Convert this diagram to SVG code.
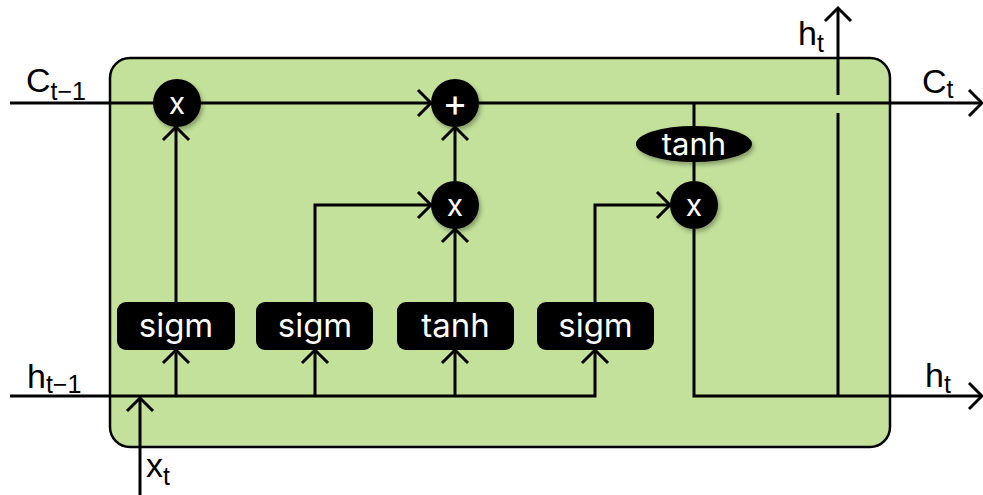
<svg xmlns="http://www.w3.org/2000/svg" width="983" height="495" viewBox="0 0 983 495">
  <style>
    .wire { fill: none; stroke: #000; stroke-width: 3; }
    .op { fill: #000; filter: url(#shadow); }
    .gate { fill: #000; }
    .optxt { font-family: "Inter", "Noto Sans", sans-serif; fill: #fff; text-anchor: middle; }
    .lbl { font-family: "Liberation Sans", Arial, sans-serif; font-size: 34px; fill: #000; }
    .sub { font-size: 25px; }
  </style>
  <defs>
    <marker id="arrow" markerUnits="userSpaceOnUse" markerWidth="30" markerHeight="30" viewBox="-15 -15 30 30" refX="0" refY="0" orient="auto">
      <path d="M-13,-13 L0,0 L-13,13" fill="none" stroke="#000" stroke-width="3"/>
    </marker>
    <filter id="shadow" x="-30%" y="-30%" width="170%" height="170%">
      <feDropShadow dx="2" dy="3" stdDeviation="2" flood-color="#000" flood-opacity="0.3"/>
    </filter>
  </defs>

  <!-- cell body -->
  <rect id="cell" x="110" y="58" width="780" height="389" rx="20" ry="20" fill="#c3e19a" stroke="#000" stroke-width="2.5"/>

  <!-- connectors -->
  <g id="connectors">
    <path class="wire" d="M10,103 H431" marker-end="url(#arrow)"/>
    <path class="wire" d="M479,103 H982" marker-end="url(#arrow)"/>
    <path class="wire" d="M694,103 V181"/>
    <path class="wire" d="M10,396 H595 V350" marker-end="url(#arrow)"/>
    <path class="wire" d="M176,396 V350" marker-end="url(#arrow)"/>
    <path class="wire" d="M315,396 V350" marker-end="url(#arrow)"/>
    <path class="wire" d="M455,396 V350" marker-end="url(#arrow)"/>
    <path class="wire" d="M140,495 V398" marker-end="url(#arrow)"/>
    <path class="wire" d="M176,302 V127" marker-end="url(#arrow)"/>
    <path class="wire" d="M315,302 V205 H431" marker-end="url(#arrow)"/>
    <path class="wire" d="M455,302 V229" marker-end="url(#arrow)"/>
    <path class="wire" d="M455,181 V127" marker-end="url(#arrow)"/>
    <path class="wire" d="M595,302 V205 H670" marker-end="url(#arrow)"/>
    <path class="wire" d="M694,229 V396 H982" marker-end="url(#arrow)"/>
    <path class="wire" d="M838,396 V113"/>
    <path class="wire" d="M838,95 V8" marker-end="url(#arrow)"/>
  </g>

  <!-- pointwise operations -->
  <g id="mul-forget">
    <circle class="op" cx="177" cy="103" r="24"/>
    <text class="optxt" x="177" y="114" font-size="30">x</text>
  </g>
  <g id="add-cell">
    <circle class="op" cx="455" cy="103" r="24"/>
    <text class="optxt" x="455" y="116" font-size="38">+</text>
  </g>
  <g id="mul-input">
    <circle class="op" cx="455" cy="205" r="24"/>
    <text class="optxt" x="455" y="216" font-size="30">x</text>
  </g>
  <g id="mul-output">
    <circle class="op" cx="694" cy="205" r="24"/>
    <text class="optxt" x="694" y="216" font-size="30">x</text>
  </g>
  <g id="tanh-cell">
    <ellipse class="op" cx="694" cy="144" rx="58" ry="18"/>
    <text class="optxt" x="694" y="155" font-size="31">tanh</text>
  </g>

  <!-- gate layers -->
  <g id="gate-forget">
    <rect class="gate" x="117" y="302" width="118" height="48" rx="9"/>
    <text class="optxt" x="176" y="337" font-size="33">sigm</text>
  </g>
  <g id="gate-input">
    <rect class="gate" x="256" y="302" width="117" height="48" rx="9"/>
    <text class="optxt" x="315" y="337" font-size="33">sigm</text>
  </g>
  <g id="gate-candidate">
    <rect class="gate" x="397" y="302" width="117" height="48" rx="9"/>
    <text class="optxt" x="455.5" y="337" font-size="33">tanh</text>
  </g>
  <g id="gate-output">
    <rect class="gate" x="537" y="302" width="117" height="48" rx="9"/>
    <text class="optxt" x="595.5" y="337" font-size="33">sigm</text>
  </g>

  <!-- labels -->
  <g id="labels">
    <text class="lbl" x="26" y="92">C<tspan class="sub" dy="8">t−1</tspan></text>
    <text class="lbl" x="27" y="388">h<tspan class="sub" dy="5">t−1</tspan></text>
    <text class="lbl" x="146" y="477">x<tspan class="sub" dy="8">t</tspan></text>
    <text class="lbl" x="922" y="93">C<tspan class="sub" dy="5">t</tspan></text>
    <text class="lbl" x="798" y="45">h<tspan class="sub" dy="7">t</tspan></text>
    <text class="lbl" x="925" y="387">h<tspan class="sub" dy="6">t</tspan></text>
  </g>
</svg>
